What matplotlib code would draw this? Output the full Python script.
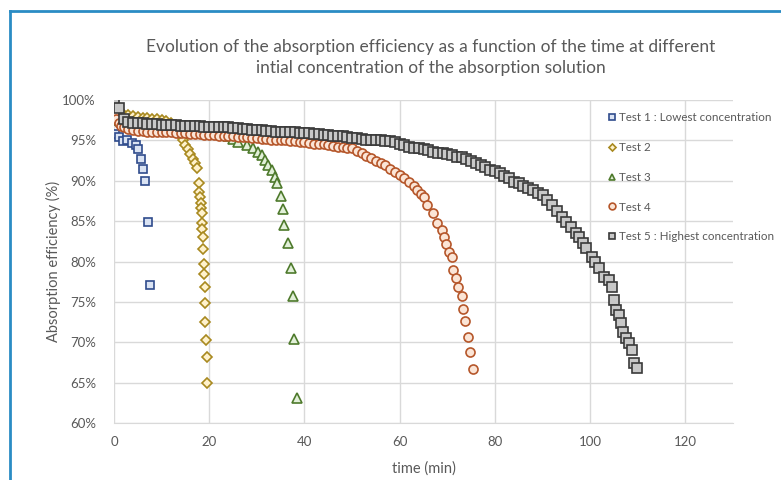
import matplotlib
matplotlib.use("Agg")
import matplotlib.pyplot as plt
from matplotlib.lines import Line2D
from matplotlib.ticker import FuncFormatter

plt.rcParams['font.family'] = ['Lato', 'DejaVu Sans']

# Test 1 : lowest concentration
t1 = [0, 0.2, 1.0, 1.9, 2.7, 3.8, 4.6, 5.0, 5.7, 6.1, 6.5, 7.1, 7.5]
e1 = [98.9, 95.8, 95.4, 94.9, 95.0, 94.7, 94.4, 93.9, 92.7, 91.5, 90.0, 84.9, 77.1]

# Test 2
t2 = [0, 1, 2, 3, 4, 5, 6, 7, 8, 9, 10, 11, 12, 13, 13.5, 14, 14.5, 15, 15.5, 16, 16.5, 17,
      17.4, 17.8, 17.9, 18.0, 18.2, 18.25, 18.4, 18.45, 18.5, 18.65, 18.7, 18.9, 18.95,
      19.1, 19.15, 19.2, 19.3, 19.5, 19.55]
e2 = [98.6, 98.4, 98.2, 98.1, 98.0, 97.9, 97.8, 97.8, 97.7, 97.6, 97.5, 97.4, 97.2, 96.7,
      96.2, 95.6, 95.0, 94.4, 93.9, 93.3, 92.7, 92.2,
      91.6, 89.7, 88.6, 88.0, 87.3, 86.6, 86.0, 84.8, 84.0, 83.0, 81.6, 79.7, 78.5,
      76.9, 74.9, 72.5, 70.3, 68.2, 65.0]

# Test 3
t3 = [0, 1, 2, 3, 4, 5, 6, 7, 8, 9, 10, 11, 12, 13, 14, 15, 16, 17, 18, 19, 20, 21, 22,
      23, 24, 25, 26.0, 27.9, 29.1, 30.2, 31.0, 31.7, 32.3, 33.1, 33.8, 34.2, 35.0, 35.4,
      35.8, 36.5, 37.1, 37.5, 37.9, 38.4]
e3 = [97.8, 97.5, 97.3, 97.2, 97.1, 97.0, 97.0, 96.9, 96.9, 96.8, 96.8, 96.7, 96.7, 96.6,
      96.6, 96.5, 96.5, 96.4, 96.4, 96.3, 96.3, 96.2, 96.0, 95.8, 95.5, 95.2, 94.8, 94.4,
      94.0, 93.6, 93.2, 92.6, 92.0, 91.3, 90.5, 89.7, 88.1, 86.5, 84.5, 82.3, 79.2, 75.7,
      70.4, 63.1]

# Test 4
t4 = [0, 0.5, 1, 1.5, 2, 3, 4, 5, 6, 7, 8, 9, 10, 11, 12, 13, 14, 15, 16, 17, 18, 19, 20,
      21, 22, 23, 24, 25, 26, 27, 28, 29, 30, 31, 32, 33, 34, 35, 36, 37, 38, 39, 40, 41,
      42, 43, 44, 45, 46, 47, 48, 49, 50, 51, 52, 53, 54, 55, 56, 57, 58, 59, 60, 61, 62,
      63, 63.7, 64.4, 65.2, 65.8, 66.9, 67.9, 68.8, 69.4, 69.8, 70.4, 70.9, 71.3, 71.9,
      72.3, 73.0, 73.4, 73.8, 74.4, 74.8, 75.5]
e4 = [98.4, 97.6, 97.1, 96.8, 96.6, 96.4, 96.3, 96.2, 96.2, 96.1, 96.1, 96.1, 96.0, 96.0,
      96.0, 95.9, 95.9, 95.9, 95.8, 95.8, 95.8, 95.7, 95.7, 95.7, 95.6, 95.6, 95.5, 95.5,
      95.4, 95.4, 95.4, 95.3, 95.3, 95.2, 95.2, 95.1, 95.1, 95.0, 95.0, 94.9, 94.9, 94.8,
      94.8, 94.7, 94.6, 94.6, 94.5, 94.4, 94.3, 94.2, 94.2, 94.1, 94.0, 93.7, 93.4, 93.1,
      92.8, 92.5, 92.2, 91.9, 91.5, 91.1, 90.7, 90.3, 89.9, 89.3, 88.9, 88.4, 88.0, 87.0,
      86.0, 84.8, 83.9, 83.0, 82.2, 81.2, 80.6, 79.0, 78.0, 76.9, 75.7, 74.1, 72.6, 70.7,
      68.8, 66.7]

# Test 5 : highest concentration
t5 = [0, 1, 2, 3, 4, 5, 6, 7, 8, 9, 10, 11, 12, 13, 14, 15, 16, 17, 18, 19, 20, 21, 22,
      23, 24, 25, 26, 27, 28, 29, 30, 31, 32, 33, 34, 35, 36, 37, 38, 39, 40, 41, 42, 43,
      44, 45, 46, 47, 48, 49, 50, 51, 52, 53, 54, 55, 56, 57, 58, 59, 60, 61, 62, 63, 64,
      65, 66, 67, 68, 69, 70, 71, 72, 73, 74, 75, 76, 77, 78, 79, 80, 81, 82, 83, 84, 85,
      86, 87, 88, 89, 90, 91, 92, 93, 94, 95, 96, 97, 97.7, 98.5, 99.2, 100.4, 101, 101.9,
      103, 104, 104.6, 105, 105.4, 106, 106.5, 106.9, 107.5, 108.2, 108.8, 109.2, 109.9]
e5 = [100.0, 99.0, 97.6, 97.3, 97.2, 97.1, 97.1, 97.0, 97.0, 97.0, 96.9, 96.9, 96.9, 96.9,
      96.8, 96.8, 96.8, 96.8, 96.8, 96.7, 96.7, 96.7, 96.7, 96.6, 96.6, 96.5, 96.5, 96.4,
      96.4, 96.3, 96.3, 96.3, 96.2, 96.2, 96.1, 96.1, 96.1, 96.0, 96.0, 95.9, 95.9, 95.9,
      95.8, 95.8, 95.7, 95.7, 95.6, 95.5, 95.5, 95.4, 95.3, 95.3, 95.2, 95.1, 95.1, 95.0,
      95.0, 94.9, 94.9, 94.8, 94.6, 94.4, 94.2, 94.1, 94.0, 93.9, 93.8, 93.6, 93.5, 93.4,
      93.3, 93.2, 93.0, 92.9, 92.7, 92.5, 92.2, 91.9, 91.7, 91.4, 91.2, 91.0, 90.6, 90.3,
      89.9, 89.7, 89.4, 89.1, 88.9, 88.5, 88.2, 87.6, 87.0, 86.3, 85.5, 84.9, 84.3, 83.6,
      83.0, 82.3, 81.7, 80.6, 79.9, 79.2, 78.1, 77.7, 76.9, 75.2, 74.0, 73.4, 72.4, 71.3,
      70.5, 69.9, 69.1, 67.4, 66.8]

series = [
    (t1, e1, 'Test 1 : Lowest concentration', 's', '#2f4b8c', '#dae3f3', 6.3),
    (t2, e2, 'Test 2', 'D', '#a8891f', '#fff2cc', 4.8),
    (t3, e3, 'Test 3', '^', '#4e7a2c', '#e2f0d9', 6.5),
    (t4, e4, 'Test 4', 'o', '#b5562a', '#fbe5d6', 6.5),
    (t5, e5, 'Test 5 : Highest concentration', 's', '#3a3a3a', '#c8c8c8', 6.5),
]

txt = '#595959'
grid = '#d9d9d9'

fig = plt.figure(figsize=(7.81, 4.8), dpi=100)
ax = fig.add_axes([114 / 781, 1 - 423.3 / 480, (733 - 114) / 781, 323.3 / 480])

for t, e, lab, mk, ec, fc, ms in series:
    ax.plot(t, e, linestyle='none', marker=mk, markersize=ms, markeredgecolor=ec,
            markerfacecolor=fc, markeredgewidth=1.2, label=lab)

ax.set_xlim(0, 130)
ax.set_ylim(60, 100)
ax.set_xticks(range(0, 121, 20))
ax.set_yticks(range(60, 101, 5))
ax.yaxis.set_major_formatter(FuncFormatter(lambda v, p: '%d%%' % v))
ax.grid(True, color=grid, linewidth=1.0)
ax.set_axisbelow(True)
for s in ['top', 'right', 'left']:
    ax.spines[s].set_visible(False)
ax.spines['bottom'].set_color(grid)
ax.tick_params(length=0, colors=txt, labelsize=9.5)
ax.tick_params(axis='y', pad=13)
ax.tick_params(axis='x', pad=9)

ax.set_xlabel('time (min)', color=txt, fontsize=10.5, labelpad=10)
ax.set_ylabel('Absorption efficiency (%)', color=txt, fontsize=10.5, labelpad=1)

fig.text(431 / 781, 1 - 47 / 480, 'Evolution of the absorption efficiency as a function of the time at different',
         ha='center', va='center', color=txt, fontsize=12.5)
fig.text(431 / 781, 1 - 68 / 480, 'intial concentration of the absorption solution',
         ha='center', va='center', color=txt, fontsize=12.5)

leg = ax.legend(loc='upper left', bbox_to_anchor=(603 / 781, 1 - 106 / 480),
                bbox_transform=fig.transFigure, frameon=False, fontsize=8.4,
                handlelength=0.6, handletextpad=0.3, labelspacing=1.62, borderpad=0,
                markerscale=0.75)
for tx in leg.get_texts():
    tx.set_color(txt)

# blue frame of the chart object
fig.add_artist(Line2D([9.5 / 781, 9.5 / 781], [0, 1 - 11 / 480], color='#2a8cc4', linewidth=2))
fig.add_artist(Line2D([9.5 / 781, 1], [1 - 11 / 480, 1 - 11 / 480], color='#2a8cc4', linewidth=2))

fig.savefig('out.png', dpi=100)
